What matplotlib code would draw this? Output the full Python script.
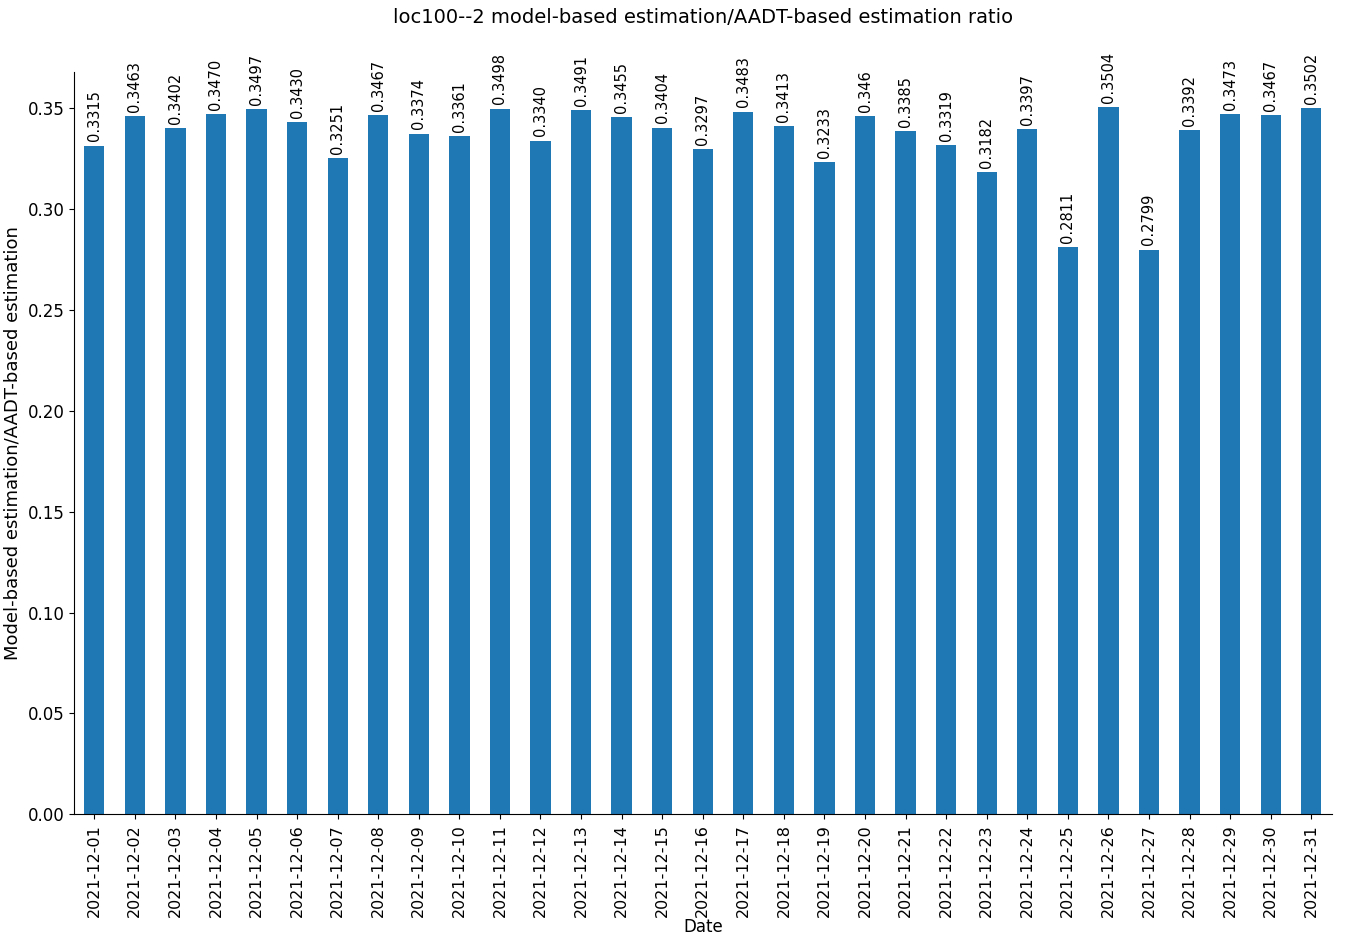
import numpy as np
import matplotlib.pyplot as plt

# Daily ratio, December 2021
dates = ["2021-12-%02d" % d for d in range(1, 32)]
ratio_labels = ["0.3315", "0.3463", "0.3402", "0.3470", "0.3497", "0.3430", "0.3251",
                "0.3467", "0.3374", "0.3361", "0.3498", "0.3340", "0.3491", "0.3455",
                "0.3404", "0.3297", "0.3483", "0.3413", "0.3233", "0.346", "0.3385",
                "0.3319", "0.3182", "0.3397", "0.2811", "0.3504", "0.2799", "0.3392",
                "0.3473", "0.3467", "0.3502"]
ratios = [float(s) for s in ratio_labels]

fig = plt.figure(figsize=(13.45, 9.36), dpi=100)
ax = fig.add_axes([0.055, 0.130, 0.935, 0.793])

x = np.arange(len(dates))
bars = ax.bar(x, ratios, width=0.5, color="#1f77b4")
ax.set_xlim(-0.5, len(dates) - 0.5)

for b, lab in zip(bars, ratio_labels):
    ax.annotate(lab, (b.get_x() + b.get_width() / 2, b.get_height()),
                xytext=(0, 3), textcoords="offset points",
                ha="center", va="bottom", rotation=90, fontsize=10.5)

ax.set_xticks(x)
ax.set_xticklabels(dates, rotation=90, fontsize=11.5)
ax.tick_params(axis="y", labelsize=12)
ax.set_xlabel("Date", fontsize=12, labelpad=1)
ax.set_ylabel("Model-based estimation/AADT-based estimation", fontsize=13)
ax.set_title("loc100--2 model-based estimation/AADT-based estimation ratio",
             fontsize=14, pad=35)

ax.spines["top"].set_visible(False)
ax.spines["right"].set_visible(False)

plt.savefig("out.png", dpi=100)
